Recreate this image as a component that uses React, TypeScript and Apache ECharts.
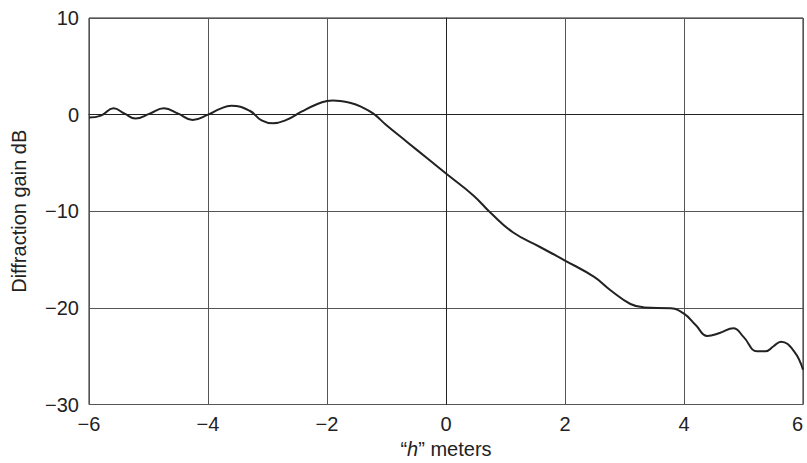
import React, { useEffect, useRef } from "react";
import * as echarts from "echarts";

const hValues = [
  -6, -5.8, -5.59, -5.4, -5.22, -4.98, -4.74, -4.5, -4.26, -4.0, -3.8, -3.61, -3.3, -3.1, -2.91, -2.7, -2.43,
  -2.2, -2.0, -1.9, -1.78, -1.6, -1.44, -1.22, -1.0, -0.66, -0.3, 0, 0.46, 0.74, 1.13, 1.58, 2.0, 2.49, 2.77,
  3.1, 3.33, 3.78, 4.0, 4.2, 4.39, 4.6, 4.83, 5.0, 5.23, 5.37, 5.5, 5.63, 5.85, 6.0,
];
const gainValues = [
  -0.3, -0.1, 0.65, 0.1, -0.4, 0.1, 0.65, 0.1, -0.55, 0, 0.6, 0.93, 0.4, -0.6, -0.9, -0.6, 0.3,
  1.0, 1.4, 1.45, 1.4, 1.2, 0.85, 0.1, -1.1, -2.8, -4.6, -6.1, -8.36, -10.1, -12.2, -13.7, -15.1, -16.8, -18.2,
  -19.6, -19.95, -20.05, -20.6, -21.8, -22.9, -22.6, -22.1, -23.0, -24.5, -24.5, -24.0, -23.5, -24.5, -26.4,
];

const xTitle = "meters";
const yTitle = "Diffraction gain dB";

const fmt = (v: number) => (v < 0 ? "\u2212" + Math.abs(v) : String(v));

export default function App() {
  const ref = useRef<HTMLDivElement>(null);
  useEffect(() => {
    if (!ref.current) return;
    const chart = echarts.init(ref.current, null, { renderer: "svg" });
    const font = "'Liberation Sans', Arial, sans-serif";
    chart.setOption({
      animation: false,
      backgroundColor: "#fff",
      textStyle: { fontFamily: font },
      grid: {
        left: 89,
        right: 4,
        top: 18,
        bottom: 58.5,
        outerBoundsMode: "none",
        containLabel: false,
        show: true,
        borderColor: "#222",
        borderWidth: 1,
      },
      xAxis: {
        type: "value",
        min: -6,
        max: 6,
        interval: 2,
        name: "{q|\u201C}{i|h}{q|\u201D} " + xTitle,
        nameLocation: "middle",
        nameGap: 34,
        nameTextStyle: {
          fontSize: 20,
          color: "#222",
          fontFamily: font,
          rich: {
            q: { fontSize: 20, color: "#222", fontFamily: font },
            i: { fontSize: 20, color: "#222", fontFamily: font, fontStyle: "italic" },
          },
        },
        axisLine: { show: true, lineStyle: { color: "#222", width: 1 } },
        axisTick: { show: false },
        axisLabel: {
          fontSize: 20,
          color: "#222",
          margin: 9,
          formatter: fmt,
          fontFamily: font,
          alignMaxLabel: "right",
        },
        splitLine: { show: true, lineStyle: { color: "#555", width: 1 } },
      },
      yAxis: {
        type: "value",
        min: -30,
        max: 10,
        interval: 10,
        name: yTitle,
        nameLocation: "middle",
        nameRotate: 90,
        nameGap: 60,
        nameTextStyle: { fontSize: 20, color: "#222", fontFamily: font },
        axisLine: { show: true, lineStyle: { color: "#222", width: 1 } },
        axisTick: { show: false },
        axisLabel: { fontSize: 20, color: "#222", margin: 10, formatter: fmt, fontFamily: font },
        splitLine: { show: true, lineStyle: { color: "#555", width: 1 } },
      },
      series: [
        {
          type: "line",
          data: hValues.map((h, i) => [h, gainValues[i]]),
          smooth: 0.45,
          showSymbol: false,
          lineStyle: { color: "#222", width: 2 },
          clip: true,
        },
      ],
    });
    return () => chart.dispose();
  }, []);
  return (
    <div
      ref={ref}
      style={{ position: "fixed", left: 0, top: 0, width: 807, height: 463 }}
    />
  );
}
